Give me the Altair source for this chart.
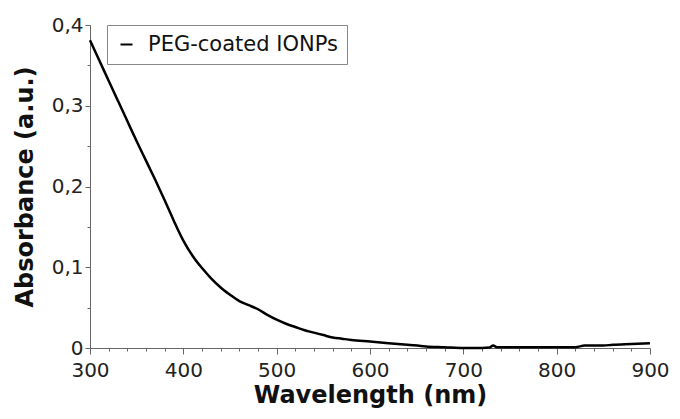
import altair as alt
import pandas as pd

wavelength = [300, 310, 320, 330, 340, 350, 360, 370, 380, 390, 400, 410, 420, 430, 440, 450,
              460, 470, 480, 490, 500, 510, 520, 530, 540, 550, 560, 570, 580, 600, 620, 640,
              660, 680, 700, 720, 728, 732, 736, 760, 800, 820, 830, 850, 860, 880, 900]
absorbance = [0.381, 0.356, 0.331, 0.306, 0.281, 0.256, 0.232, 0.208, 0.183, 0.157, 0.133, 0.114,
              0.099, 0.086, 0.075, 0.066, 0.058, 0.053, 0.048, 0.041, 0.035, 0.030, 0.026, 0.022,
              0.019, 0.016, 0.013, 0.0115, 0.010, 0.008, 0.006, 0.004, 0.002, 0.001, 0.0, 0.0,
              0.0005, 0.003, 0.001, 0.001, 0.001, 0.001, 0.003, 0.003, 0.004, 0.005, 0.006]
series_name = "PEG-coated IONPs"

x_ticks = list(range(300, 901, 20))
y_ticks = [round(i * 0.05, 2) for i in range(0, 9)]

df = pd.DataFrame({"wavelength": wavelength, "absorbance": absorbance, "series": series_name})

FONT = "DejaVu Sans"
AXC = "#666666"

x_axis = alt.Axis(
    title="Wavelength (nm)", values=x_ticks,
    labelExpr="datum.value % 100 == 0 ? datum.label : ''",
    tickSize={"condition": {"test": "datum.value % 100 == 0", "value": 6}, "value": 3},
    labelFlush=False, labelOverlap=False, grid=False,
    domainColor=AXC, tickColor=AXC, labelColor="#222222",
    labelFont=FONT, labelFontSize=20, labelPadding=6,
    titleFont=FONT, titleFontSize=24, titleFontWeight="bold", titleColor="#111111",
    titlePadding=3,
)
y_axis = alt.Axis(
    title="Absorbance (a.u.)", values=y_ticks,
    labelExpr="abs(datum.value*10 - round(datum.value*10)) < 0.001 ? (datum.value == 0 ? '0' : replace(format(datum.value, '.1f'), '.', ',')) : ''",
    tickSize={"condition": {"test": "abs(datum.value*10 - round(datum.value*10)) < 0.001", "value": 5}, "value": 3},
    labelFlush=False, labelOverlap=False, grid=False,
    domainColor=AXC, tickColor=AXC, labelColor="#222222",
    labelFont=FONT, labelFontSize=20, labelPadding=2,
    titleFont=FONT, titleFontSize=24, titleFontWeight="bold", titleColor="#111111",
    titlePadding=14,
)

chart = alt.Chart(df).mark_line(strokeWidth=2.5, interpolate="monotone").encode(
    x=alt.X("wavelength:Q", scale=alt.Scale(domain=[300, 900], nice=False, zero=False), axis=x_axis),
    y=alt.Y("absorbance:Q", scale=alt.Scale(domain=[0, 0.4], nice=False), axis=y_axis),
    color=alt.Color("series:N", scale=alt.Scale(range=["black"]),
                    legend=alt.Legend(title=None, orient="none", legendX=17, legendY=0,
                                      symbolType="stroke", symbolSize=144, symbolStrokeWidth=2,
                                      labelFont=FONT, labelFontSize=21, labelColor="#111111",
                                      labelLimit=0,
                                      labelOffset=11, padding=9, strokeColor="#888888",
                                      fillColor="white")),
).properties(
    width=560, height=323,
    autosize=alt.AutoSizeParams(type="none"),
    padding={"left": 82, "top": 17, "right": 22, "bottom": 63},
).configure(background="white").configure_view(stroke=None)

chart.save("out.html", embed_options={"renderer": "svg", "actions": False})
